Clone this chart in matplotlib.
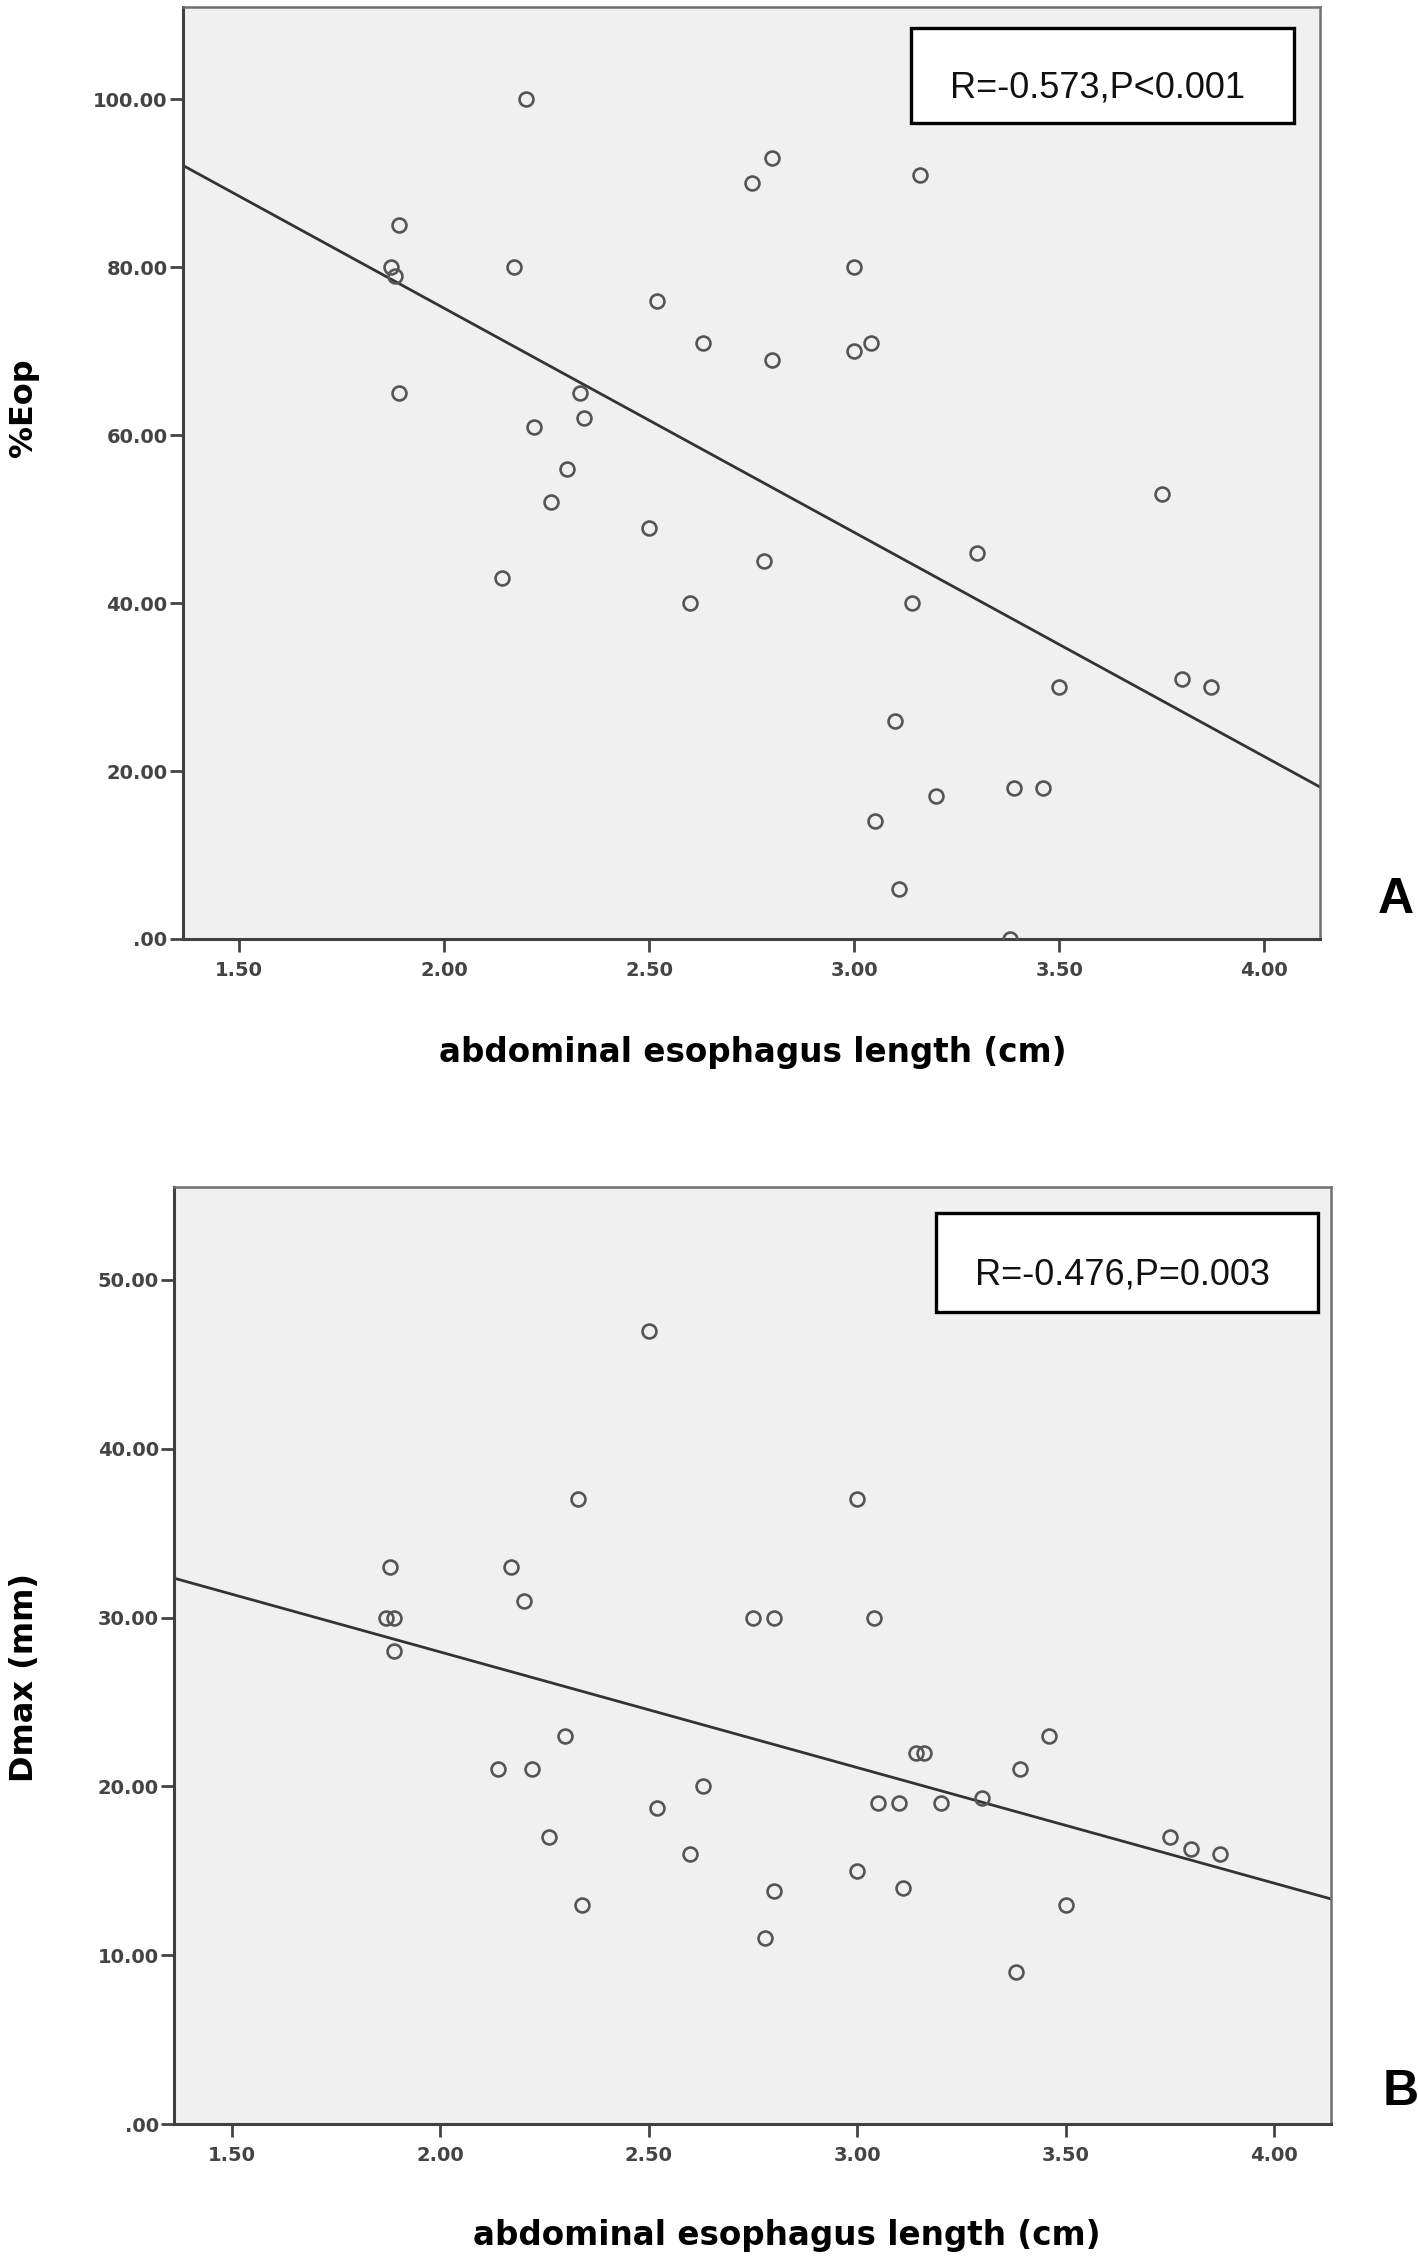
import matplotlib
matplotlib.use("Agg")
import matplotlib.pyplot as plt
from matplotlib.patches import Rectangle
from matplotlib.ticker import FuncFormatter
import numpy as np

# Data (one entry per patient)
length_cm = [1.87, 1.88, 1.89, 1.89, 2.14, 2.17, 2.20, 2.22, 2.26, 2.30,
             2.33, 2.34, 2.50, 2.52, 2.60, 2.63, 2.75, 2.78, 2.80, 2.80,
             3.00, 3.00, 3.04, 3.05, 3.10, 3.11, 3.14, 3.16, 3.20, 3.30,
             3.38, 3.39, 3.46, 3.50, 3.75, 3.80, 3.87]
eop_pct = [80, 79, 85, 65, 43, 80, 100, 61, 52, 56,
           65, 62, 49, 76, 40, 71, 90, 45, 93, 69,
           80, 70, 71, 14, 26, 6, 40, 91, 17, 46,
           0, 18, 18, 30, 53, 31, 30]
dmax_mm = [30, 33, 30, 28, 21, 33, 31, 21, 17, 23,
           37, 13, 47, 18.7, 16, 20, 30, 11, 30, 13.8,
           37, 15, 30, 19, 19, 14, 22, 22, 19, 19.3,
           9, 21, 23, 13, 17, 16.3, 16]

x_ticks = [1.5, 2.0, 2.5, 3.0, 3.5, 4.0]
eop_ticks = [0, 20, 40, 60, 80, 100]
dmax_ticks = [0, 10, 20, 30, 40, 50]

x_label = "abdominal esophagus length (cm)"
stat_a = "R=-0.573,P<0.001"
stat_b = "R=-0.476,P=0.003"

W, H = 1418, 2262
fig = plt.figure(figsize=(W / 100, H / 100), dpi=100)


def fx(px):
    return px / W


def fy(py):
    return 1 - py / H


def spss_fmt(v, pos):
    # SPSS style: 0 is shown as ".00"
    s = f"{v:.2f}"
    if s.startswith("0."):
        s = s[1:]
    return s


def make_panel(box, y, ylim, yticks, stat, stat_box, ylab, ylab_pos, xlab_pos, letter, letter_pos):
    left, top, right, bottom = box
    ax = fig.add_axes([fx(left), fy(bottom), fx(right - left), (bottom - top) / H])
    ax.set_facecolor("#f0f0f0")

    ax.plot(length_cm, y, "o", ms=10, mfc="none", mec="#555555", mew=1.9, zorder=3)

    # linear fit line across the whole axis
    z = np.polyfit(length_cm, y, 1)
    xs = np.array([1.362, 4.136])
    ax.plot(xs, np.polyval(z, xs), color="#333333", lw=2.0, zorder=2)

    ax.set_xlim(1.362, 4.136)
    ax.set_ylim(*ylim)
    ax.set_xticks(x_ticks)
    ax.set_yticks(yticks)
    ax.xaxis.set_major_formatter(FuncFormatter(spss_fmt))
    ax.yaxis.set_major_formatter(FuncFormatter(spss_fmt))
    ax.tick_params(length=9.5, width=2.0, color="#444444", labelcolor="#444444",
                   labelsize=14)
    ax.tick_params(axis="x", pad=6)
    ax.tick_params(axis="y", pad=1.5)
    for lab in ax.get_xticklabels() + ax.get_yticklabels():
        lab.set_fontweight("bold")
    for s in ["left", "bottom"]:
        ax.spines[s].set_color("#404040")
        ax.spines[s].set_linewidth(2.2)
    for s in ["top", "right"]:
        ax.spines[s].set_color("#707070")
        ax.spines[s].set_linewidth(1.8)

    # statistics box
    bl, bt, br, bb = stat_box
    fig.patches.append(Rectangle((fx(bl), fy(bb)), fx(br - bl), (bb - bt) / H,
                                 transform=fig.transFigure, facecolor="white",
                                 edgecolor="black", lw=2.4, zorder=5))
    fig.text(fx((bl + br) / 2 - 5), fy(bt + (bb - bt) * 0.63), stat, ha="center", va="center",
             fontsize=26, family="Liberation Sans", color="#111111", zorder=6)

    fig.text(fx(ylab_pos[0]), fy(ylab_pos[1]), ylab, rotation=90, ha="center", va="center",
             fontsize=23, fontweight="bold", family="DejaVu Sans")
    fig.text(fx(xlab_pos[0]), fy(xlab_pos[1]), x_label, ha="center", va="center",
             fontsize=23.5, fontweight="bold", family="DejaVu Sans")
    fig.text(fx(letter_pos[0]), fy(letter_pos[1]), letter, ha="center", va="center",
             fontsize=36, fontweight="bold", family="Liberation Sans")
    return ax


make_panel((182.7, 7, 1320, 939), eop_pct, (0, 111), eop_ticks, stat_a,
           (911, 28, 1294, 123), "%Eop", (24, 408), (753, 1053), "A", (1396, 900))
make_panel((174, 1187, 1331, 2124), dmax_mm, (0, 55.5), dmax_ticks, stat_b,
           (936, 1213, 1318, 1312), "Dmax (mm)", (25, 1677), (787, 2235), "B", (1401, 2092))

fig.savefig("out.png", dpi=100)
